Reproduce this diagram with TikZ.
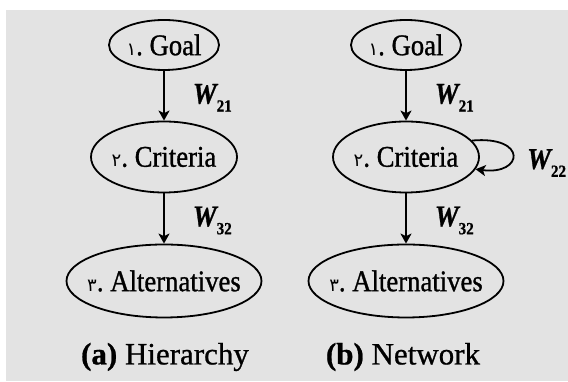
\documentclass[tikz,border=0pt]{standalone}
\usepackage{fontspec}
\setmainfont{Liberation Serif}[FakeBold=0.8]
\newfontfamily\nodefont{Liberation Serif}[FakeStretch=0.89, FakeBold=1]
\newfontfamily\arabicfont[Script=Arabic]{DejaVu Sans}
\usetikzlibrary{shapes,arrows.meta}
\definecolor{panel}{gray}{0.89}
\tikzstyle{line} = [draw, line width=1.8pt, -{Stealth[length=10pt,width=11pt,inset=2.5pt]}]
\tikzstyle{stage} = [draw, ellipse, line width=1.8pt, inner sep=0pt]
\tikzstyle{weight} = [anchor=west, inner sep=0pt, xshift=28pt, yshift=-2pt]
\newcommand{\stagenum}[1]{{\fontsize{18}{18}\selectfont\arabicfont #1}.\ }
\newcommand{\wsub}[1]{{\bfseries\itshape W}\raisebox{-8pt}{\fontsize{17}{17}\selectfont\bfseries #1}}

\begin{document}
\begin{tikzpicture}[x=1pt, y=1pt, font=\nodefont\fontsize{30}{30}\selectfont]
\useasboundingbox (0,0) rectangle (568,382);
\fill [panel] (6,1) rectangle (568,372);

\node at (164, 337) [stage, minimum width=110pt, minimum height=50pt] (Goal) {\makebox[0pt]{\stagenum{١}Goal}};
\node at (164, 225) [stage, minimum width=146pt, minimum height=71pt] (Criteria) {\makebox[0pt]{\stagenum{٢}Criteria}};
\node at (164, 101) [stage, minimum width=195pt, minimum height=73pt] (Alternatives) {\makebox[0pt]{\stagenum{٣}Alternatives}};
\path [line] (Goal) -- node [weight] {\wsub{21}} (Criteria);
\path [line] (Criteria) -- node [weight] {\wsub{32}} (Alternatives);
\node at (165, 25) [font=\fontsize{31}{31}\selectfont] (Hierarchy) {\textbf{(a)} Hierarchy};

\begin{scope}[shift={(242, 0)}]
\node at (164, 337) [stage, minimum width=110pt, minimum height=50pt] (GoalN) {\makebox[0pt]{\stagenum{١}Goal}};
\node at (164, 225) [stage, minimum width=146pt, minimum height=71pt] (CriteriaN) {\makebox[0pt]{\stagenum{٢}Criteria}};
\node at (164, 101) [stage, minimum width=195pt, minimum height=73pt] (AlternativesN) {\makebox[0pt]{\stagenum{٣}Alternatives}};
\path [line] (GoalN) -- node [weight] {\wsub{21}} (CriteriaN);
\path [line] (CriteriaN) -- node [weight] {\wsub{32}} (AlternativesN);
\path [line] (CriteriaN.14) .. controls +(56,5) and +(48,-6) .. (CriteriaN.-10);
\node at (285, 219) [anchor=west, inner sep=0pt] (W22) {\wsub{22}};
\node at (161, 25) [font=\fontsize{31}{31}\selectfont] (Network) {\textbf{(b)} Network};
\end{scope}
\end{tikzpicture}
\end{document}
